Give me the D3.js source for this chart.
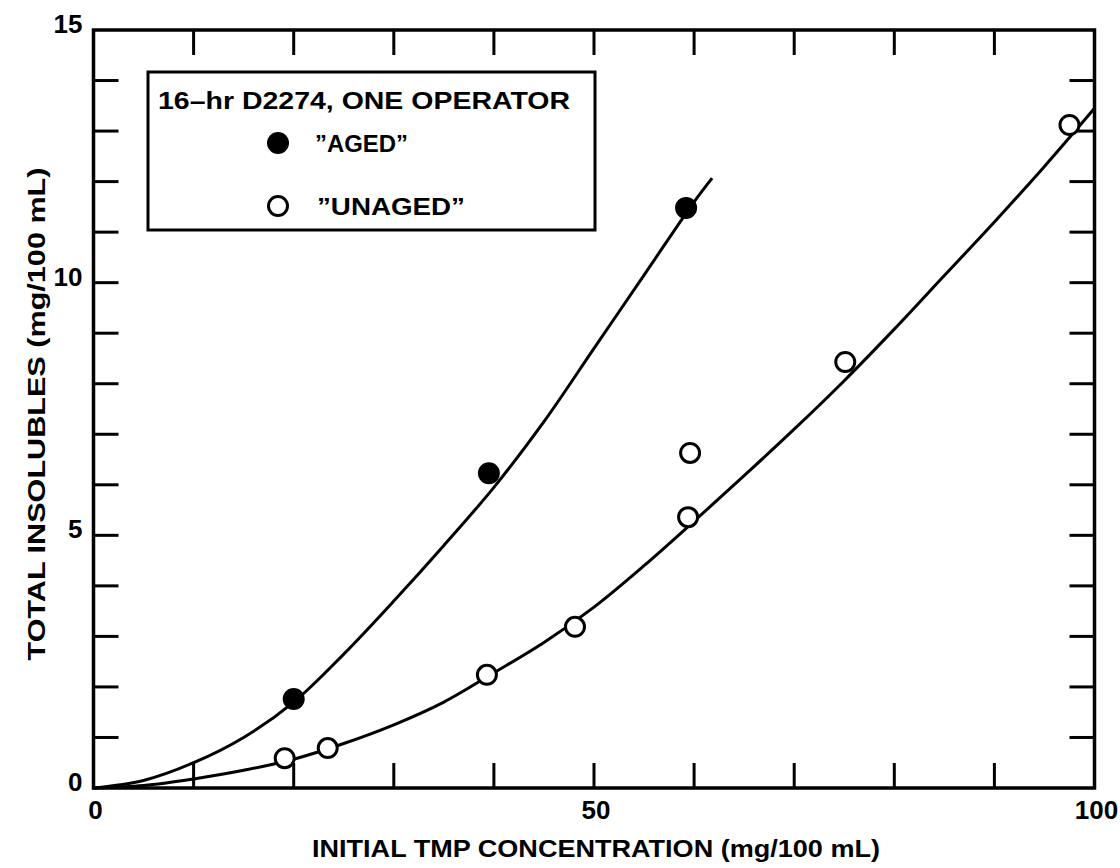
<!DOCTYPE html>
<html><head><meta charset="utf-8">
<script src="https://cdn.jsdelivr.net/npm/d3@7"></script>
<style>
html,body{margin:0;padding:0;background:#fff;}
text{font-family:"Liberation Sans",Arial,Helvetica,sans-serif;font-weight:bold;fill:#000;}
</style></head><body>
<svg id="chart" width="1120" height="868"></svg>
<script>
// ---- data ----
const xTickValues = [0,10,20,30,40,50,60,70,80,90,100];
const xTickLabels = ["0","","","","","50","","","","","100"];
const yTickValues = [0,1,2,3,4,5,6,7,8,9,10,11,12,13,14,15];
const yTickLabels = {0:"0",5:"5",10:"10",15:"15"};

const agedX = [20, 39.5, 59.2];
const agedY = [1.76, 6.23, 11.48];

const unagedX = [19.1, 23.4, 39.3, 48.1, 59.6, 59.4, 75.1, 97.5];
const unagedY = [0.59, 0.79, 2.24, 3.19, 6.63, 5.36, 8.43, 13.12];

const agedCurveX = [0, 5, 10, 15, 20, 25, 30, 35, 40, 45, 50, 55, 60, 61.8];
const agedCurveY = [0, 0.15, 0.5, 1.0, 1.7, 2.65, 3.7, 4.8, 5.95, 7.25, 8.7, 10.15, 11.6, 12.07];

const unagedCurveX = [0, 5, 10, 15, 20, 25, 30, 35, 40, 45, 50, 55, 60, 65, 70, 75, 80, 85, 90, 95, 100];
const unagedCurveY = [0, 0.05, 0.18, 0.35, 0.57, 0.88, 1.25, 1.7, 2.28, 2.88, 3.58, 4.4, 5.28, 6.18, 7.1, 8.06, 9.08, 10.14, 11.2, 12.3, 13.45];

const legendTitle = "16\u2013hr D2274, ONE OPERATOR";
const legendLabels = ["\u201dAGED\u201d", "\u201dUNAGED\u201d"];
const xTitle = "INITIAL TMP CONCENTRATION (mg/100 mL)";
const yTitle = "TOTAL INSOLUBLES (mg/100 mL)";

// ---- layout ----
const L = 93.5, R = 1094.5, T = 30, B = 788;
const svg = d3.select("#chart");
const x = d3.scaleLinear().domain([0,100]).range([L,R]);
const y = d3.scaleLinear().domain([0,15]).range([B,T]);
const TL = 25;

// ticks (inward on all sides)
const g = svg.append("g").attr("stroke","#000").attr("stroke-width",3);
xTickValues.filter(v=>v>0&&v<100).forEach(v=>{
  g.append("line").attr("x1",x(v)).attr("x2",x(v)).attr("y1",B).attr("y2",B-TL);
  g.append("line").attr("x1",x(v)).attr("x2",x(v)).attr("y1",T).attr("y2",T+TL);
});
yTickValues.filter(v=>v>0&&v<15).forEach(v=>{
  g.append("line").attr("x1",L).attr("x2",L+TL).attr("y1",y(v)).attr("y2",y(v));
  g.append("line").attr("x1",R).attr("x2",R-TL).attr("y1",y(v)).attr("y2",y(v));
});
// frame
svg.append("rect").attr("x",L).attr("y",T).attr("width",R-L).attr("height",B-T)
  .attr("fill","none").attr("stroke","#000").attr("stroke-width",3.5);

// tick labels
xTickValues.forEach((v,i)=>{
  if(!xTickLabels[i]) return;
  svg.append("text").attr("x",x(v)+2).attr("y",B+31).attr("text-anchor","middle")
    .attr("font-size",26).text(xTickLabels[i]);
});
yTickValues.forEach(v=>{
  if(yTickLabels[v]===undefined) return;
  svg.append("text").attr("x",L-11).attr("y",y(v)+3).attr("text-anchor","end")
    .attr("font-size",26).text(yTickLabels[v]);
});

// axis titles
svg.append("text").attr("x",596).attr("y",857).attr("text-anchor","middle")
  .attr("font-size",24).attr("textLength",568).attr("lengthAdjust","spacingAndGlyphs").text(xTitle);
svg.append("text").attr("transform",`translate(45,414) rotate(-90)`)
  .attr("text-anchor","middle").attr("font-size",24)
  .attr("textLength",493).attr("lengthAdjust","spacingAndGlyphs").text(yTitle);

// curves
const line = d3.line().x(d=>x(d[0])).y(d=>y(d[1])).curve(d3.curveCatmullRom.alpha(0.5));
svg.append("path").datum(agedCurveX.map((v,i)=>[v,agedCurveY[i]]))
  .attr("d",line).attr("fill","none").attr("stroke","#000").attr("stroke-width",3);
svg.append("path").datum(unagedCurveX.map((v,i)=>[v,unagedCurveY[i]]))
  .attr("d",line).attr("fill","none").attr("stroke","#000").attr("stroke-width",3);

// markers
svg.selectAll("circle.aged").data(agedX.map((v,i)=>[v,agedY[i]])).enter().append("circle")
  .attr("cx",d=>x(d[0])).attr("cy",d=>y(d[1])).attr("r",11).attr("fill","#000");
svg.selectAll("circle.unaged").data(unagedX.map((v,i)=>[v,unagedY[i]])).enter().append("circle")
  .attr("cx",d=>x(d[0])).attr("cy",d=>y(d[1])).attr("r",9.5)
  .attr("fill","#fff").attr("stroke","#000").attr("stroke-width",3);

// legend
const lg = svg.append("g");
lg.append("rect").attr("x",148).attr("y",72).attr("width",447).attr("height",158)
  .attr("fill","#fff").attr("stroke","#000").attr("stroke-width",3);
lg.append("text").attr("x",158).attr("y",109).attr("font-size",24)
  .attr("textLength",412).attr("lengthAdjust","spacingAndGlyphs").text(legendTitle);
lg.append("circle").attr("cx",278).attr("cy",143).attr("r",11).attr("fill","#000");
lg.append("text").attr("x",315).attr("y",152).attr("font-size",24)
  .attr("textLength",93).attr("lengthAdjust","spacingAndGlyphs").text(legendLabels[0]);
lg.append("circle").attr("cx",278).attr("cy",206).attr("r",9.5).attr("fill","#fff")
  .attr("stroke","#000").attr("stroke-width",3);
lg.append("text").attr("x",317).attr("y",215).attr("font-size",24)
  .attr("textLength",148).attr("lengthAdjust","spacingAndGlyphs").text(legendLabels[1]);
</script>
</body></html>
